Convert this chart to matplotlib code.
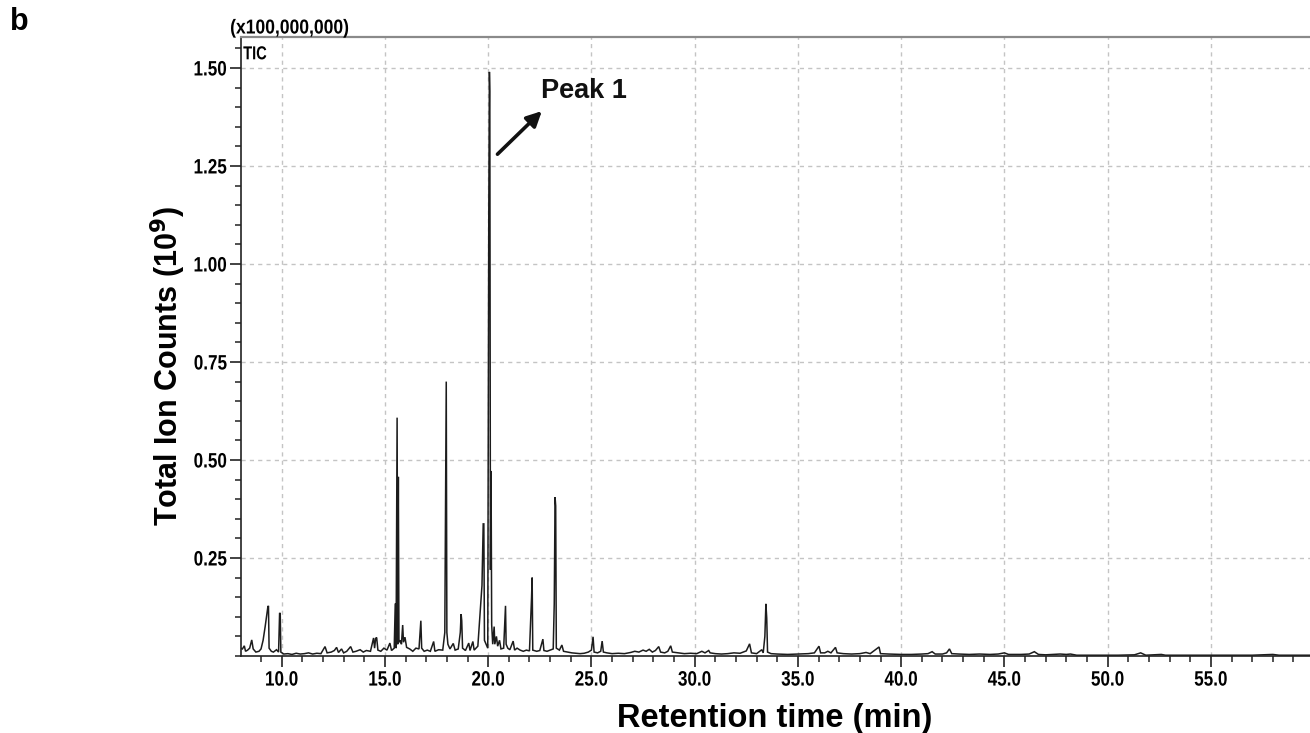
import matplotlib
matplotlib.use("Agg")
import matplotlib.pyplot as plt
from matplotlib.ticker import FixedLocator, MultipleLocator, FixedFormatter
from matplotlib.patheffects import AbstractPathEffect
from matplotlib.transforms import Affine2D

# ---- data (retention time in min, intensity in x100,000,000 counts) ----
rt = [
    8.00, 8.10, 8.19, 8.25, 8.35, 8.45, 8.55, 8.62, 8.75, 8.90,
    9.00, 9.10, 9.20, 9.28, 9.33, 9.36, 9.39, 9.50, 9.60, 9.75,
    9.85, 9.90, 9.93, 9.96, 10.10, 10.30, 10.50, 10.70, 10.90, 11.10,
    11.30, 11.50, 11.70, 11.90, 12.10, 12.20, 12.40, 12.55, 12.66, 12.75,
    12.90, 13.00, 13.15, 13.34, 13.45, 13.60, 13.80, 13.95, 14.10, 14.30,
    14.45, 14.50, 14.55, 14.60, 14.66, 14.80, 14.95, 15.10, 15.24, 15.32,
    15.45, 15.50, 15.54, 15.59, 15.62, 15.65, 15.68, 15.75, 15.80, 15.86,
    15.90, 15.97, 16.05, 16.20, 16.35, 16.50, 16.65, 16.74, 16.78, 16.90,
    17.05, 17.20, 17.36, 17.42, 17.60, 17.80, 17.90, 17.97, 18.00, 18.05,
    18.15, 18.31, 18.40, 18.55, 18.65, 18.69, 18.72, 18.76, 18.90, 19.06,
    19.12, 19.26, 19.32, 19.50, 19.65, 19.70, 19.76, 19.79, 19.82, 19.90,
    19.98, 20.03, 20.06, 20.08, 20.11, 20.14, 20.17, 20.22, 20.29, 20.32,
    20.40, 20.46, 20.55, 20.62, 20.75, 20.84, 20.87, 20.95, 21.05, 21.21,
    21.28, 21.40, 21.55, 21.70, 21.85, 22.00, 22.10, 22.13, 22.16, 22.35,
    22.50, 22.65, 22.70, 22.85, 23.00, 23.15, 23.20, 23.24, 23.27, 23.30,
    23.45, 23.57, 23.65, 23.85, 24.05, 24.25, 24.45, 24.65, 24.85, 25.00,
    25.08, 25.13, 25.30, 25.45, 25.52, 25.58, 25.75, 26.00, 26.30, 26.60,
    26.90, 27.10, 27.30, 27.50, 27.65, 27.80, 27.95, 28.10, 28.26, 28.35,
    28.55, 28.70, 28.84, 28.92, 29.20, 29.50, 29.80, 30.10, 30.35, 30.50,
    30.68, 30.75, 31.00, 31.30, 31.60, 31.90, 32.20, 32.50, 32.66, 32.75,
    33.00, 33.25, 33.32, 33.40, 33.45, 33.49, 33.53, 33.70, 34.00, 34.50,
    35.00, 35.50, 35.80, 36.02, 36.10, 36.30, 36.45, 36.60, 36.82, 36.90,
    37.20, 37.60, 38.00, 38.30, 38.50, 38.93, 39.00, 39.40, 40.00, 40.50,
    41.00, 41.30, 41.50, 41.65, 42.00, 42.20, 42.34, 42.45, 42.80, 43.30,
    43.80, 44.30, 44.70, 45.00, 45.20, 45.80, 46.20, 46.45, 46.65, 47.00,
    47.70, 48.00, 48.20, 48.50, 49.50, 50.50, 51.30, 51.60, 51.85, 52.60,
    52.80, 54.00, 55.50, 57.00, 58.00, 58.30, 59.80,
]
tic = [
    0.020, 0.018, 0.026, 0.012, 0.015, 0.020, 0.041, 0.018, 0.010, 0.012,
    0.018, 0.040, 0.075, 0.105, 0.125, 0.128, 0.020, 0.012, 0.010, 0.016,
    0.010, 0.110, 0.108, 0.010, 0.005, 0.006, 0.004, 0.007, 0.005, 0.006,
    0.008, 0.005, 0.007, 0.006, 0.024, 0.008, 0.010, 0.014, 0.022, 0.009,
    0.018, 0.008, 0.012, 0.024, 0.010, 0.012, 0.016, 0.010, 0.014, 0.012,
    0.046, 0.020, 0.045, 0.047, 0.015, 0.012, 0.020, 0.015, 0.033, 0.014,
    0.020, 0.134, 0.020, 0.608, 0.030, 0.457, 0.035, 0.040, 0.030, 0.079,
    0.035, 0.048, 0.022, 0.018, 0.012, 0.020, 0.018, 0.090, 0.020, 0.012,
    0.015, 0.012, 0.037, 0.012, 0.016, 0.015, 0.060, 0.700, 0.060, 0.030,
    0.018, 0.032, 0.015, 0.018, 0.060, 0.107, 0.090, 0.020, 0.014, 0.033,
    0.014, 0.037, 0.015, 0.025, 0.140, 0.180, 0.337, 0.337, 0.040, 0.030,
    0.020, 1.130, 1.490, 1.440, 0.220, 0.472, 0.080, 0.030, 0.075, 0.030,
    0.050, 0.025, 0.040, 0.018, 0.020, 0.128, 0.030, 0.020, 0.016, 0.038,
    0.015, 0.020, 0.015, 0.012, 0.015, 0.013, 0.148, 0.200, 0.015, 0.012,
    0.014, 0.043, 0.014, 0.012, 0.015, 0.018, 0.133, 0.405, 0.383, 0.020,
    0.015, 0.028, 0.012, 0.010, 0.008, 0.007, 0.006, 0.007, 0.010, 0.015,
    0.049, 0.010, 0.008, 0.012, 0.038, 0.010, 0.008, 0.006, 0.007, 0.006,
    0.009, 0.012, 0.010, 0.015, 0.012, 0.017, 0.010, 0.014, 0.024, 0.010,
    0.008, 0.012, 0.026, 0.010, 0.008, 0.006, 0.007, 0.006, 0.012, 0.008,
    0.014, 0.008, 0.006, 0.005, 0.006, 0.008, 0.007, 0.013, 0.031, 0.008,
    0.006, 0.016, 0.008, 0.050, 0.133, 0.097, 0.010, 0.006, 0.005, 0.004,
    0.005, 0.006, 0.008, 0.025, 0.008, 0.008, 0.012, 0.008, 0.022, 0.008,
    0.006, 0.005, 0.006, 0.009, 0.006, 0.023, 0.006, 0.005, 0.004, 0.004,
    0.005, 0.006, 0.011, 0.005, 0.005, 0.008, 0.018, 0.006, 0.005, 0.004,
    0.005, 0.004, 0.005, 0.008, 0.004, 0.004, 0.005, 0.011, 0.004, 0.003,
    0.005, 0.004, 0.005, 0.002, 0.002, 0.002, 0.003, 0.008, 0.002, 0.004,
    0.002, 0.002, 0.002, 0.002, 0.004, 0.002, 0.002,
]

x_ticks = [10.0, 15.0, 20.0, 25.0, 30.0, 35.0, 40.0, 45.0, 50.0, 55.0]
x_tick_labels = ["10.0", "15.0", "20.0", "25.0", "30.0", "35.0", "40.0", "45.0", "50.0", "55.0"]
y_ticks = [0.25, 0.50, 0.75, 1.00, 1.25, 1.50]
y_tick_labels = ["0.25", "0.50", "0.75", "1.00", "1.25", "1.50"]

peak_label = "Peak 1"

SANS = ["Liberation Sans", "DejaVu Sans"]


class Condense(AbstractPathEffect):
    """Squeeze glyphs horizontally around a chosen anchor (narrow-font look)."""

    def __init__(self, sx=0.8, anchor="center"):
        super().__init__()
        self.sx = sx
        self.anchor = anchor

    def draw_path(self, renderer, gc, tpath, affine, rgbFace=None):
        ext = tpath.get_extents()
        if self.anchor == "right":
            x0 = ext.x1
        elif self.anchor == "left":
            x0 = ext.x0
        else:
            x0 = 0.5 * (ext.x0 + ext.x1)
        pre = Affine2D().translate(-x0, 0).scale(self.sx, 1.0).translate(x0, 0)
        renderer.draw_path(gc, tpath, pre + affine, rgbFace)


fig = plt.figure(figsize=(13.1, 7.33), dpi=100)
ax = fig.add_axes([241 / 1310, 77 / 733, 1 - 241 / 1310, 619 / 733])

ax.plot(rt, tic, color="#1c1c1c", lw=1.1, solid_joinstyle="miter")

ax.set_xlim(8.03, 59.8)
ax.set_ylim(0, 1.579)

ax.xaxis.set_major_locator(FixedLocator(x_ticks))
ax.xaxis.set_major_formatter(FixedFormatter(x_tick_labels))
ax.xaxis.set_minor_locator(MultipleLocator(1.0))
ax.yaxis.set_major_locator(FixedLocator(y_ticks))
ax.yaxis.set_major_formatter(FixedFormatter(y_tick_labels))
ax.yaxis.set_minor_locator(MultipleLocator(0.05))

ax.tick_params(axis="both", which="major", direction="out", length=8, width=1.2,
               color="#222222")
ax.tick_params(axis="x", which="major", pad=2.5)
ax.tick_params(axis="y", which="major", pad=2)
ax.tick_params(axis="both", which="minor", direction="out", length=4.5, width=1.1,
               color="#222222")
for lab in ax.get_xticklabels():
    lab.set_fontfamily(SANS)
    lab.set_fontweight("bold")
    lab.set_fontsize(15)
    lab.set_path_effects([Condense(0.82, "center")])
for lab in ax.get_yticklabels():
    lab.set_fontfamily(SANS)
    lab.set_fontweight("bold")
    lab.set_fontsize(15)
    lab.set_path_effects([Condense(0.82, "right")])

ax.grid(True, which="major", color="#c4c4c4", linestyle=(0, (3, 3)), lw=1.0)
ax.set_axisbelow(True)

ax.spines["right"].set_visible(False)
ax.spines["top"].set_color("#8a8a8a")
ax.spines["top"].set_linewidth(1.6)
ax.spines["left"].set_color("#222222")
ax.spines["left"].set_linewidth(1.2)
ax.spines["bottom"].set_color("#222222")
ax.spines["bottom"].set_linewidth(1.2)

# annotations
ax.annotate("", xy=(22.6, 1.39), xytext=(20.45, 1.28),
            arrowprops=dict(arrowstyle="-|>,head_length=0.9,head_width=0.45",
                            color="#111111", lw=2.6, shrinkA=0, shrinkB=0))
ax.text(22.55, 1.44, peak_label, fontfamily=SANS, fontweight="bold",
        fontsize=19.5, ha="left", va="center", color="#111111")

ax.text(0.002, 0.985, "TIC", transform=ax.transAxes, fontfamily=SANS,
        fontweight="bold", fontsize=13.5, ha="left", va="top",
        path_effects=[Condense(0.78, "left")])
fig.text(230 / 1310, 1 - 28 / 733, "(x100,000,000)", fontfamily=SANS,
         fontweight="bold", fontsize=14.5, ha="left", va="center",
         path_effects=[Condense(0.87, "left")])

fig.text(775 / 1310, 1 - 718 / 733, "Retention time (min)", fontfamily=SANS,
         fontweight="bold", fontsize=23.5, ha="center", va="center")
fig.text(168 / 1310, 1 - 366 / 733, "Total Ion Counts (10$^{\\mathbf{9}}$)",
         fontfamily=SANS, fontweight="bold", fontsize=22, rotation=90,
         ha="center", va="center")
fig.text(10 / 1310, 1 - 22 / 733, "b", fontfamily=SANS, fontweight="bold",
         fontsize=22, ha="left", va="center")

fig.savefig("out.png", dpi=100)
